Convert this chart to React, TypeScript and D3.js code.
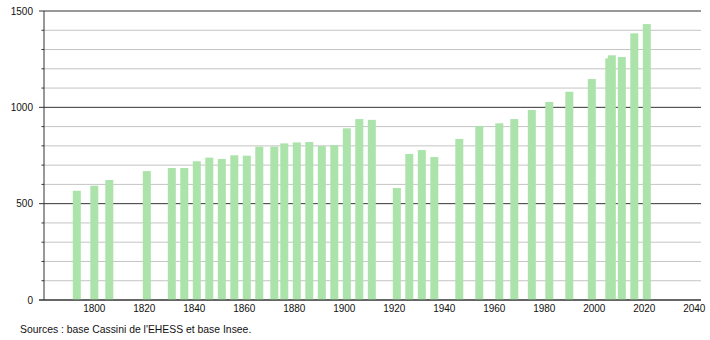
import React from "react";
import * as d3 from "d3";

const years = [1793, 1800, 1806, 1821, 1831, 1836, 1841, 1846, 1851, 1856, 1861, 1866, 1872, 1876, 1881, 1886, 1891, 1896, 1901, 1906, 1911, 1921, 1926, 1931, 1936, 1946, 1954, 1962, 1968, 1975, 1982, 1990, 1999, 2006, 2007, 2011, 2016, 2021];
const population = [567, 593, 623, 669, 685, 685, 720, 739, 732, 751, 749, 796, 796, 813, 818, 820, 799, 804, 891, 939, 935, 581, 758, 778, 742, 836, 903, 917, 939, 986, 1028, 1081, 1147, 1254, 1270, 1261, 1384, 1432];
const xTicks = [1800, 1820, 1840, 1860, 1880, 1900, 1920, 1940, 1960, 1980, 2000, 2020, 2040];
const yMajor = [0, 500, 1000, 1500];
const yMinor = d3.range(0, 1501, 100);
const source = "Sources : base Cassini de l'EHESS et base Insee.";

export default function App() {
  const W = 710, H = 340;
  const x = d3.scaleLinear().domain([1780, 2040]).range([44.3, 694.3]);
  const y = d3.scaleLinear().domain([0, 1500]).range([300, 11]);
  const left = 44, right = 701;
  const bw = 8;
  const font = "'Liberation Sans', Arial, sans-serif";
  return (
    <svg width={W} height={H} style={{ position: "absolute", left: 0, top: 0 }}>
      <rect width={W} height={H} fill="#fff" />
      {yMinor.filter(v => !yMajor.includes(v)).map(v => (
        <g key={"m" + v}>
          <line x1={left} x2={right} y1={y(v)} y2={y(v)} stroke="#c4c4c4" strokeWidth={1} />
          <line x1={left - 2.5} x2={left} y1={y(v)} y2={y(v)} stroke="#333" strokeWidth={1} />
        </g>
      ))}
      {yMajor.map(v => (
        <g key={"M" + v}>
          <line x1={left - 5} x2={right} y1={y(v)} y2={y(v)} stroke="#333" strokeWidth={1} />
          <text x={33} y={y(v)} dy="0.35em" textAnchor="end" fontFamily={font} fontSize={10} fill="#111">{v}</text>
        </g>
      ))}
      {years.map((yr, i) => (
        <rect key={yr} x={x(yr) - bw / 2} y={y(population[i])} width={bw} height={y(0) - y(population[i])} fill="#abe3ab" />
      ))}
      <line x1={left} x2={left} y1={y(1500)} y2={y(0)} stroke="#333" strokeWidth={1} />
      <line x1={left - 5} x2={right} y1={y(0)} y2={y(0)} stroke="#333" strokeWidth={1} />
      {xTicks.map(t => (
        <text key={t} x={x(t)} y={312} textAnchor="middle" fontFamily={font} fontSize={10} fill="#111">{t}</text>
      ))}
      <text x={20} y={333} fontFamily={font} fontSize={10.4} fill="#111">{source}</text>
    </svg>
  );
}
